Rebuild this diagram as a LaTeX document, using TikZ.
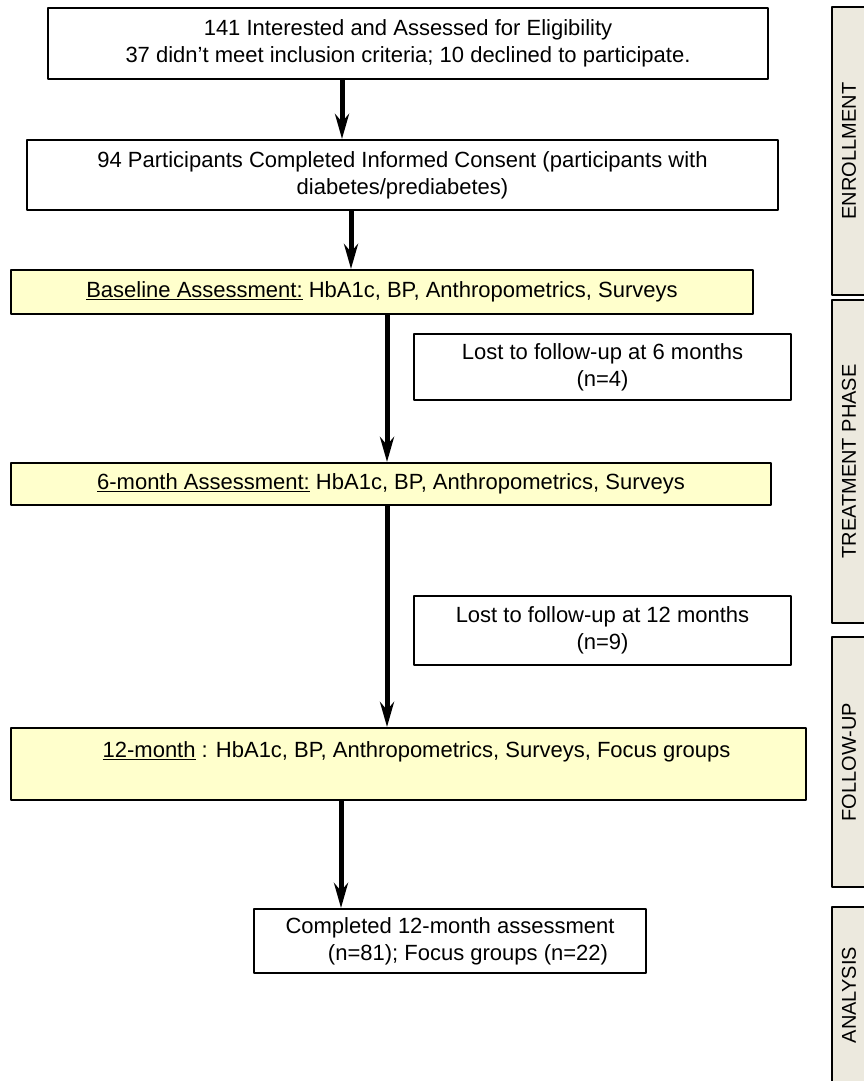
\documentclass[tikz,border=0pt]{standalone}
\usepackage{fontspec}
\setmainfont{Liberation Sans}
\usetikzlibrary{arrows.meta}
\definecolor{boxyellow}{RGB}{255,255,204}
\definecolor{phasegray}{RGB}{236,233,222}
\tikzset{
	box/.style={draw,line width=2pt,inner sep=0pt,anchor=north west,align=center},
	ybox/.style={box,fill=boxyellow},
	phasebox/.style={draw,line width=2pt,fill=phasegray},
	phasetext/.style={rotate=90,font=\fontsize{20}{24}\selectfont},
	flow/.style={-{Stealth[length=25pt,width=14pt,inset=8pt]},line width=5pt}
}
\begin{document}
\begin{tikzpicture}[x=1pt,y=-1pt,line join=round,font=\fontsize{22}{27}\selectfont]
	\useasboundingbox (0,0) rectangle (864,1081);
	\clip (0,0) rectangle (864,1081);
	%%Khung
	\node[box,minimum width=720pt,minimum height=71pt] (enrol) at (47,7)
		{141 Interested and Assessed for Eligibility\\37 didn’t meet inclusion criteria; 10 declined to participate.};
	\node[box,minimum width=751pt,minimum height=70pt] (consent) at (26,139)
		{94 Participants Completed Informed Consent (participants with\\diabetes/prediabetes)};
	\node[ybox,minimum width=742pt,minimum height=44pt] (base) at (10,269)
		{\underline{Baseline Assessment:} HbA1c, BP, Anthropometrics, Surveys};
	\node[box,minimum width=377pt,minimum height=66pt] (lost6) at (413,333)
		{Lost to follow-up at 6 months\\(n=4)};
	\node[ybox,minimum width=760pt,minimum height=42pt] (six) at (10,462)
		{\underline{6-month Assessment:} HbA1c, BP, Anthropometrics, Surveys};
	\node[box,minimum width=377pt,minimum height=69pt] (lost12) at (413,595)
		{Lost to follow-up at 12 months\\(n=9)};
	\node[ybox,minimum width=795pt,minimum height=72pt] (twelve) at (10,727) {};
	\node[anchor=north,inner sep=0pt] (twelvetext) at ([xshift=8pt,yshift=-14pt]twelve.north)
		{\underline{12-month} : HbA1c, BP, Anthropometrics, Surveys, Focus groups};
	\node[box,minimum width=392pt,minimum height=64pt] (done) at (253,908)
		{Completed 12-month assessment\\\hspace*{36pt}(n=81); Focus groups (n=22)};
	%%Mũi tên
	\path (342,0)coordinate(a1) (351,0)coordinate(a2) (387,0)coordinate(a3) (341,0)coordinate(a4);
	\draw[flow] (enrol.south -| a1)--(consent.north -| a1);
	\draw[flow] (consent.south -| a2)--(base.north -| a2);
	\draw[flow] (base.south -| a3)--(six.north -| a3);
	\draw[flow] (six.south -| a3)--(twelve.north -| a3);
	\draw[flow] (twelve.south -| a4)--(done.north -| a4);
	%%Giai đoạn
	\foreach \t/\a/\b/\n in {ENROLLMENT/7/295/enr,TREATMENT PHASE/300/623/trt,FOLLOW-UP/637/887/fol,ANALYSIS/907/1083/ana}{
		\draw[phasebox] (832,\a) rectangle (872,\b);
		\node[phasetext] (\n) at (849,{(\a+\b)/2}) {\t};
	}
\end{tikzpicture}
\end{document}
